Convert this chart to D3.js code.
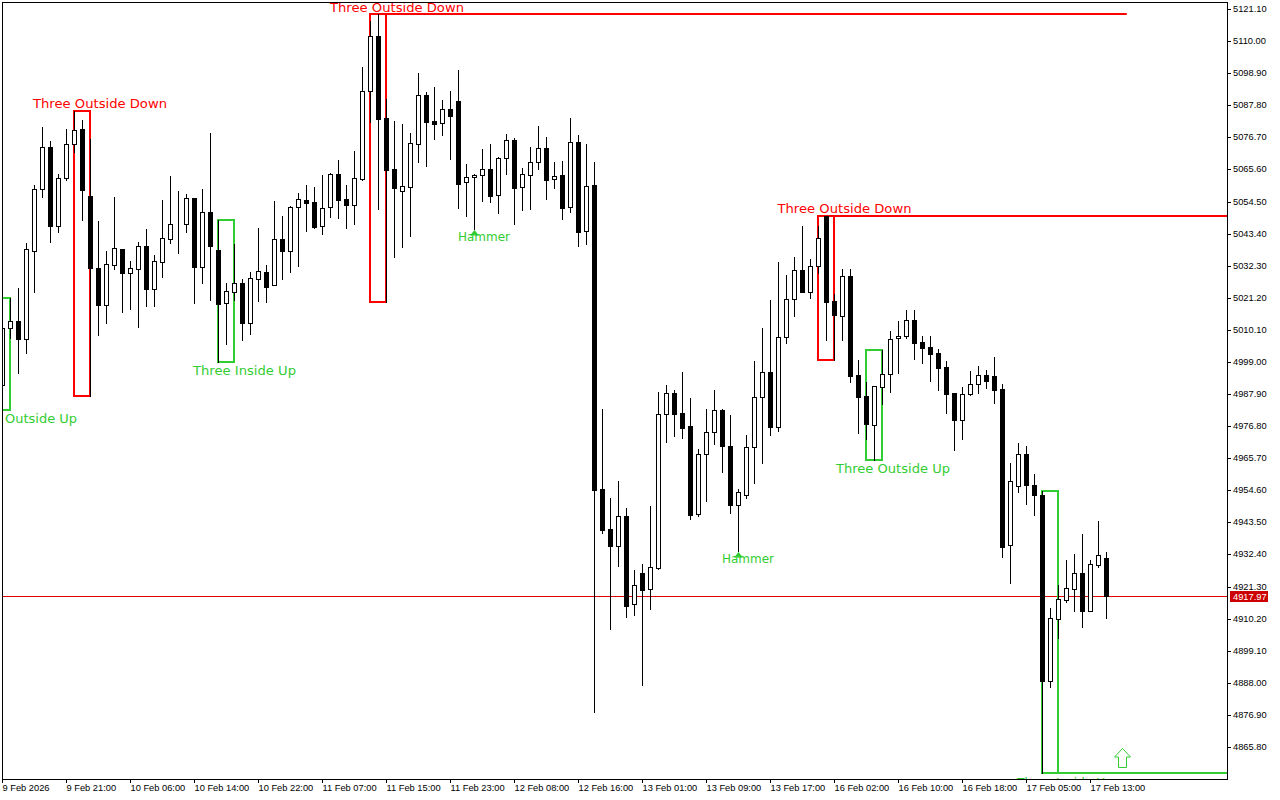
<!DOCTYPE html>
<html>
<head>
<meta charset="utf-8">
<script src="https://cdnjs.cloudflare.com/ajax/libs/d3/7.8.5/d3.min.js"></script>
<style>
html,body{margin:0;padding:0;background:#fff;overflow:hidden}
svg{display:block}
.ax text{font-family:"Liberation Sans",Arial,sans-serif;font-size:9.3px;fill:#000}
.pat{font-family:"DejaVu Sans",sans-serif;font-size:13px}
</style>
</head>
<body>
<svg id="c" width="1280" height="800"></svg>
<script>
const highs = [5011.8,5021.1,5024.6,5040.2,5060.2,5080.3,5075.4,5064.0,5079.6,5085.8,
5082.7,5076.1,5047.8,5037.4,5056.1,5038.1,5033.9,5040.5,5045.0,5036.0,
5055.0,5063.3,5058.1,5057.1,5055.7,5058.8,5078.2,5048.1,5026.3,5039.8,
5027.7,5030.1,5045.3,5032.6,5054.7,5049.5,5053.0,5057.5,5060.2,5059.5,
5063.7,5064.4,5068.9,5060.2,5072.0,5101.0,5116.9,5119.4,5090.0,5082.4,
5081.3,5078.2,5099.0,5092.4,5094.1,5089.6,5092.7,5100.0,5067.5,5064.0,
5072.7,5074.4,5069.9,5077.9,5076.5,5066.1,5073.4,5080.6,5076.8,5068.2,
5068.5,5083.4,5077.5,5074.4,5068.2,4982.7,4952.0,4957.8,4948.5,4927.0,
4929.1,4949.2,4988.6,4991.0,4989.3,4995.5,4986.5,4969.0,4982.7,4989.3,
4982.7,4980.7,4955.1,4973.7,4999.3,5010.8,5020.4,5033.6,5029.1,5035.3,
5046.0,5034.6,5046.0,5049.5,5022.5,5031.2,5031.2,4999.7,4992.1,4990.7,
5003.1,5009.7,5013.2,5017.0,5017.0,5008.0,5008.0,5003.5,4999.3,4988.3,
4990.3,4995.9,4997.6,4996.2,5000.7,4991.4,4964.1,4971.0,4969.9,4960.3,
4954.4,4914.0,4921.9,4930.5,4932.6,4939.5,4930.5,4944.0,4933.3];
const opens = [4991.0,5010.8,5013.2,5006.9,5037.4,5058.8,5073.4,5046.0,5062.6,5074.4,
5079.6,5056.4,5031.5,5018.7,5032.6,5038.1,5029.8,5031.2,5039.1,5024.3,
5033.6,5041.5,5046.7,5046.7,5055.7,5031.9,5050.9,5037.7,5019.4,5023.2,
5026.3,5012.5,5027.7,5030.1,5025.6,5041.5,5037.4,5052.6,5055.0,5054.3,
5046.0,5052.6,5064.0,5055.4,5053.3,5062.3,5092.7,5111.8,5083.4,5065.8,
5058.1,5059.5,5074.4,5091.4,5082.4,5081.7,5086.5,5089.3,5061.3,5063.0,
5063.7,5065.8,5056.8,5069.6,5075.8,5059.5,5063.7,5068.2,5073.1,5062.3,
5063.7,5052.6,5075.1,5044.3,5060.2,4955.1,4941.2,4935.3,4945.7,4915.3,
4926.0,4920.5,4927.7,4981.0,4988.3,4981.4,4977.0,4946.4,4967.2,4974.8,
4982.4,4969.9,4949.5,4953.0,4969.6,4986.9,4995.5,4976.5,5007.6,5020.8,
5030.8,5023.2,5032.2,5049.5,5020.1,5014.9,5028.7,4994.5,4987.2,4977.2,
4990.3,4994.8,5007.3,5008.0,5013.5,5005.9,5004.2,5002.1,4997.3,4988.3,
4978.9,4987.9,4991.4,4994.5,4994.2,4989.7,4935.7,4956.1,4967.2,4956.4,
4953.0,4888.7,4910.1,4916.7,4920.5,4926.0,4912.9,4928.8,4931.2];
const closes = [5010.8,5013.2,5006.9,5038.1,5058.8,5073.4,5046.0,5062.6,5074.4,5079.2,
5058.5,5031.5,5018.7,5032.9,5038.4,5029.8,5031.5,5039.1,5024.3,5033.9,
5041.9,5046.7,5046.7,5055.7,5031.9,5050.9,5039.1,5019.1,5023.5,5026.3,
5012.5,5028.1,5030.5,5024.9,5041.5,5037.4,5052.6,5055.4,5054.0,5045.7,
5052.3,5064.0,5055.0,5053.3,5062.6,5092.7,5111.8,5083.1,5065.4,5059.2,
5059.9,5074.7,5091.4,5082.0,5081.3,5086.5,5084.1,5060.6,5063.0,5063.7,
5065.8,5056.4,5069.6,5075.8,5059.2,5064.0,5068.2,5073.1,5062.0,5063.3,
5052.3,5075.1,5044.0,5059.9,4954.7,4940.9,4935.3,4945.7,4914.6,4921.9,
4920.1,4928.1,4981.0,4988.3,4981.0,4976.2,4946.1,4967.2,4974.8,4982.4,
4969.9,4949.5,4954.0,4969.6,4986.9,4995.5,4976.5,5007.6,5020.8,5030.8,
5023.2,5032.2,5041.9,5019.8,5015.2,5028.7,4994.2,4986.9,4977.5,4990.7,
4994.8,5006.9,5008.0,5013.5,5005.6,5003.8,5001.8,4996.9,4987.9,4978.9,
4987.9,4991.4,4994.5,4992.4,4989.3,4935.0,4957.8,4967.2,4956.4,4953.0,
4888.7,4910.4,4917.0,4920.8,4926.0,4912.9,4929.1,4932.2,4917.97];
const lows = [4988.6,5007.3,4995.2,5002.1,5023.2,5056.1,5040.5,5044.0,5062.0,5071.6,
5048.1,4987.2,5008.3,5012.5,5031.2,5016.3,5017.3,5011.1,5018.4,5018.4,
5028.4,5040.2,5036.7,5044.0,5019.4,5026.3,5020.4,4999.0,5005.2,5020.4,
5006.6,5008.7,5020.1,5019.8,5025.6,5027.7,5030.1,5032.2,5044.3,5045.3,
5043.3,5049.2,5048.8,5045.3,5046.7,5062.0,5082.0,5051.9,5019.8,5035.3,
5038.8,5042.6,5068.2,5066.8,5076.1,5077.5,5069.2,5052.3,5049.5,5045.0,
5054.7,5054.3,5050.5,5064.0,5046.7,5051.6,5051.9,5065.8,5055.4,5059.2,
5048.5,5050.9,5039.1,5039.8,4877.9,4939.9,4906.6,4928.4,4910.8,4911.5,
4887.3,4913.6,4927.4,4971.3,4973.4,4972.7,4944.7,4945.7,4950.9,4970.6,
4961.0,4946.8,4933.6,4952.0,4957.1,4964.1,4973.7,4975.1,5005.6,5014.9,
5023.2,5021.1,5029.8,5006.6,4999.7,5006.6,4992.1,4974.4,4972.3,4965.1,
4984.5,4988.6,4995.2,5007.3,5000.0,4998.6,4992.4,4989.3,4981.4,4968.6,
4972.3,4987.6,4988.3,4990.0,4984.8,4931.5,4922.5,4954.0,4949.9,4946.1,
4856.8,4886.6,4903.5,4916.0,4912.9,4907.3,4912.9,4928.1,4910.4];

const priceTicks = [5121.1,5110.0,5098.9,5087.8,5076.7,5065.6,5054.5,5043.4,5032.3,5021.2,5010.1,4999.0,4987.9,4976.8,4965.7,4954.6,4943.5,4932.4,4921.3,4910.2,4899.1,4888.0,4876.9,4865.8];
const timeTickIndex = [0,8,16,24,32,40,48,56,64,72,80,88,96,104,112,120,128,136];
const timeTickLabels = ["9 Feb 2026","9 Feb 21:00","10 Feb 06:00","10 Feb 14:00","10 Feb 22:00","11 Feb 07:00","11 Feb 15:00","11 Feb 23:00","12 Feb 08:00","12 Feb 16:00","13 Feb 01:00","13 Feb 09:00","13 Feb 17:00","16 Feb 02:00","16 Feb 10:00","16 Feb 18:00","17 Feb 05:00","17 Feb 13:00"];
const lastPrice = 4917.97;

// pattern boxes: first bar, last bar, upper price, lower price
const boxStart = [-1,9,27,46,102,108,130];
const boxEnd   = [1,11,29,48,104,110,132];
const boxHigh  = [5021.1,5085.8,5048.1,5119.4,5049.5,5003.1,4954.4];
const boxLow   = [4982.4,4987.2,4999.0,5019.8,4999.7,4965.1,4856.8];
const boxBull  = [true,false,true,false,false,true,true];
// level lines that run on to the right of a box
const levelPrice = [5119.4,5049.5,4856.8];
const levelFrom  = [46,102,130];
const levelTo    = [140.6,160,160];
const levelBull  = [false,false,true];
const hammerBars = [59,92];

const W=1280,H=800, L=2, R=1227, T=2, B=779;
const RED="#ff0000", GREEN="#32cd32";
const x = d3.scaleLinear().domain([0,138]).range([2,1106]);
const y = d3.scaleLinear().domain([4865.8,5121.1]).rangeRound([747,9]);
const svg = d3.select("#c");
svg.append("rect").attr("width",W).attr("height",H).attr("fill","#fff");
const defs = svg.append("defs");
defs.append("clipPath").attr("id","plot").append("rect").attr("x",L).attr("y",T).attr("width",R-L).attr("height",B-T);
const plot = svg.append("g").attr("clip-path","url(#plot)");
const idx = d3.range(highs.length);

// price line under everything
plot.append("line").attr("x1",L).attr("x2",R).attr("y1",y(lastPrice)+.5).attr("y2",y(lastPrice)+.5)
  .attr("stroke","#e00000").attr("stroke-width",1).attr("shape-rendering","crispEdges");

// boxes
plot.selectAll("rect.box").data(d3.range(boxStart.length)).join("rect").attr("class","box")
  .attr("x",i=>x(boxStart[i])).attr("width",i=>x(boxEnd[i])-x(boxStart[i]))
  .attr("y",i=>y(boxHigh[i])).attr("height",i=>y(boxLow[i])-y(boxHigh[i]))
  .attr("fill","none").attr("stroke",i=>boxBull[i]?GREEN:RED).attr("stroke-width",2);
plot.selectAll("line.level").data(d3.range(levelPrice.length)).join("line").attr("class","level")
  .attr("x1",i=>x(levelFrom[i])).attr("x2",i=>x(levelTo[i]))
  .attr("y1",i=>y(levelPrice[i])).attr("y2",i=>y(levelPrice[i]))
  .attr("stroke",i=>levelBull[i]?GREEN:RED).attr("stroke-width",2);

// candles
const candle = plot.selectAll("g.k").data(idx).join("g").attr("class","k").attr("shape-rendering","crispEdges");
candle.append("line")
  .attr("x1",i=>x(i)+.5).attr("x2",i=>x(i)+.5)
  .attr("y1",i=>y(highs[i])).attr("y2",i=>y(lows[i])+1)
  .attr("stroke","#000");
candle.append("rect")
  .attr("x",i=>x(i)-1.5).attr("width",4)
  .attr("y",i=>y(Math.max(opens[i],closes[i]))+.5)
  .attr("height",i=>y(Math.min(opens[i],closes[i]))-y(Math.max(opens[i],closes[i])))
  .attr("fill",i=>closes[i]>=opens[i]?"#fff":"#000")
  .attr("stroke","#000");

// hammer arrows
plot.selectAll("path.h").data(hammerBars).join("path").attr("class","h")
  .attr("transform",i=>`translate(${x(i)+.5},${y(lows[i])+1})`)
  .attr("d","M0,0L4.5,5.5L-4.5,5.5Z").attr("fill",GREEN);

// hollow arrow
plot.append("path").attr("transform",`translate(${x(140)+.5},${y(4865.5)+.5})`)
  .attr("d","M0,0L8,8.5L4,8.5L4,19L-4,19L-4,8.5L-8,8.5Z")
  .attr("fill","#fff").attr("stroke",GREEN).attr("stroke-width",1);

// labels
function lab(t,px,py,c,w){plot.append("text").attr("class","pat").attr("x",px).attr("y",py).attr("fill",c)
  .attr("textLength",w).attr("lengthAdjust","spacingAndGlyphs").text(t);}
lab("Three Outside Down",33,108,RED,134);
lab("Three Outside Down",330,12,RED,134);
lab("Three Outside Down",777.5,213,RED,134);
lab("Three Inside Up",193,375,GREEN,103);
lab("Outside Up",5,423,GREEN,72);
lab("Hammer",458,241,GREEN,52);
lab("Hammer",722,563,GREEN,52);
lab("Three Outside Up",836,473,GREEN,114);
lab("Three Inside Up",1017,787,GREEN,96);

// axes
const yAxis = d3.axisRight(y).tickValues(priceTicks).tickFormat(d3.format(".2f")).tickSize(4).tickPadding(2);
const gy = svg.append("g").attr("class","ax").attr("transform",`translate(${R},0)`).call(yAxis);
gy.select(".domain").remove();
const xAxis = d3.axisBottom(x).tickValues(timeTickIndex).tickFormat((d,i)=>timeTickLabels[i]).tickSize(4).tickPadding(2);
const gx = svg.append("g").attr("class","ax").attr("transform",`translate(0,${B})`).call(xAxis);
gx.select(".domain").remove();
gx.selectAll("text").attr("text-anchor","start").attr("x",0).attr("y",5).attr("dy","0.71em");
svg.selectAll(".tick line").attr("shape-rendering","crispEdges");

// frame
svg.append("path").attr("d",`M${L+.5},${B+.5}V${T+.5}H${R+.5}V${B+.5}H${L+.5}`)
  .attr("fill","none").attr("stroke","#000").attr("shape-rendering","crispEdges");

// last price tag
const tag = svg.append("g");
tag.append("rect").attr("x",R+3).attr("y",y(lastPrice)-5).attr("width",38).attr("height",11).attr("fill","#cc0000");
tag.append("text").attr("x",R+6).attr("y",y(lastPrice)+4)
  .attr("font-family","Liberation Sans, Arial, sans-serif").attr("font-size","9.3px").attr("fill","#fff").text(d3.format(".2f")(lastPrice));
</script>
</body>
</html>
